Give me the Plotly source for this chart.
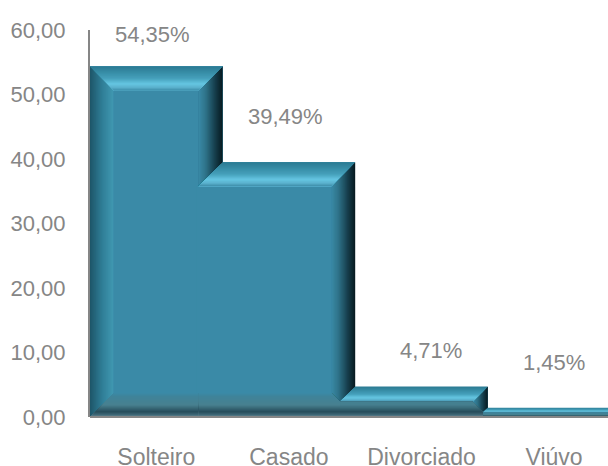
import plotly.graph_objects as go

categories = ["Solteiro", "Casado", "Divorciado", "Viúvo"]
values = [54.35, 39.49, 4.71, 1.45]
value_labels = ["54,35%", "39,49%", "4,71%", "1,45%"]
y_ticks = [0, 10, 20, 30, 40, 50, 60]
y_tick_labels = ["0,00", "10,00", "20,00", "30,00", "40,00", "50,00", "60,00"]

# layout constants (pixels)
W, H = 608, 466
L, T, B = 90, 29.5, 49
CAT_PX = 132.6
UNIT_PX = (H - B - T) / 60
BEVEL_PX = 24
X_MIN, X_MAX = -0.5, (W - L) / CAT_PX - 0.5
LABEL_DX = [-4, -3, 9.5, 0]
LABEL_DY = [32, 46, 36, 45]
TEXT = "#868686"
FONT = "Liberation Sans"

FLAT = "#3a8aa7"
TOP_G = [(0, "#2b7a92"), (0.5, "#45a0bb"), (0.72, "#66c6e2"), (0.88, "#5ab0cc"), (1, "#3a8aa7")]
LEFT_G = [(0, "#1d5568"), (0.5, "#2f7d96"), (0.95, "#3f97b0"), (1, "#3a8aa7")]
RIGHT_G = [(0, "#071a20"), (0.3, "#153c4a"), (0.7, "#2f7389"), (1, "#3a8aa7")]
BOTTOM_G = [(0, "#6b8a96"), (0.1, "#3d6675"), (0.22, "#264c5a"), (0.5, "#47808f"), (0.85, "#3f8399"), (1, "#3a8aa7")]


def hex2rgb(c):
    return [int(c[i:i + 2], 16) for i in (1, 3, 5)]


def grad(stops, t):
    for (t0, c0), (t1, c1) in zip(stops, stops[1:]):
        if t <= t1:
            f = (t - t0) / (t1 - t0)
            a, b = hex2rgb(c0), hex2rgb(c1)
            return "rgb(%d,%d,%d)" % tuple(round(p + (q - p) * f) for p, q in zip(a, b))
    return stops[-1][1]


shapes = []


def poly(pts, color):
    path = "M" + "L".join(f"{x:.4f},{y:.4f}" for x, y in pts) + "Z"
    shapes.append(dict(type="path", xref="x", yref="y", path=path, fillcolor=color,
                       line=dict(width=0), layer="above"))


def bevel(oa, ob, ib, ia, stops, px, scale=1.0):
    n = max(int(round(px)), 2)
    for k in range(n):
        t = k / n
        a = (oa[0] + (ia[0] - oa[0]) * t, oa[1] + (ia[1] - oa[1]) * t)
        b = (ob[0] + (ib[0] - ob[0]) * t, ob[1] + (ib[1] - ob[1]) * t)
        poly([a, b, ib, ia], grad(stops, (t + 0.5 / n) * scale))


for i, v in enumerate(values):
    x0, x1 = i - 0.5, i + 0.5
    px = min(BEVEL_PX, v * UNIT_PX / 2)
    bx, by = px / CAT_PX, px / UNIT_PX
    in_l = x0 + bx if i == 0 else x0 - bx
    in_r = x1 - bx
    in_t, in_b = v - by, by
    if in_t > in_b:
        flat_l = in_l if i == 0 else in_l - 2 / CAT_PX
        poly([(flat_l, in_t), (in_r, in_t), (in_r, in_b), (flat_l, in_b)], FLAT)
    if i == 0:
        bevel((x0, 0), (x0, v), (in_l, in_t), (in_l, in_b), LEFT_G, px)
    bevel((x1, v), (x1, 0), (in_r, in_b), (in_r, in_t), RIGHT_G, px)
    bevel((x0, v), (x1, v), (in_r, in_t), (in_l, in_t), TOP_G, px)
    out_l = x0 if i == 0 else in_l
    bottom_scale = px / BEVEL_PX if px >= 10 else 1.0
    bevel((x1, 0), (out_l, 0), (in_l, in_b), (in_r, in_b), BOTTOM_G, px, bottom_scale)

AXIS = "#868686"
plot_w = W - L
shapes.append(dict(type="line", xref="paper", yref="paper", x0=0, x1=1, y0=0, y1=0,
                   line=dict(color=AXIS, width=2), layer="above"))
shapes.append(dict(type="line", xref="paper", yref="paper", x0=-1 / plot_w, x1=-1 / plot_w, y0=0, y1=1,
                   line=dict(color=AXIS, width=2), layer="above"))

fig = go.Figure(go.Bar(x=categories, y=values, width=1, marker=dict(color=FLAT, line=dict(width=0)),
                       hoverinfo="x+y"))

annotations = [
    dict(x=c, y=v, text=t, xref="x", yref="y", showarrow=False, xanchor="center", yanchor="middle",
         xshift=dx, yshift=dy, font=dict(family=FONT, size=22, color=TEXT))
    for c, v, t, dx, dy in zip(categories, values, value_labels, LABEL_DX, LABEL_DY)
]

fig.update_layout(
    width=W, height=H, margin=dict(l=L, r=0, t=T, b=B, pad=0, autoexpand=False),
    paper_bgcolor="white", plot_bgcolor="white", showlegend=False, bargap=0,
    shapes=shapes, annotations=annotations,
    font=dict(family=FONT, color=TEXT),
    xaxis=dict(type="category", categoryorder="array", categoryarray=categories, range=[X_MIN, X_MAX],
               automargin=False,
               showgrid=False, zeroline=False, showline=False, ticks="outside", ticklen=19,
               tickcolor="rgba(0,0,0,0)", tickfont=dict(size=23, color=TEXT)),
    yaxis=dict(range=[0, 60], tickmode="array", tickvals=y_ticks, ticktext=y_tick_labels,
               automargin=False,
               showgrid=False, zeroline=False, showline=False, ticks="outside", ticklen=19,
               tickcolor="rgba(0,0,0,0)", tickfont=dict(size=22, color=TEXT)),
)
fig.write_html("out.html", config=dict(displayModeBar=False),
               post_script="document.body.style.margin='0';document.body.style.overflow='hidden';")
